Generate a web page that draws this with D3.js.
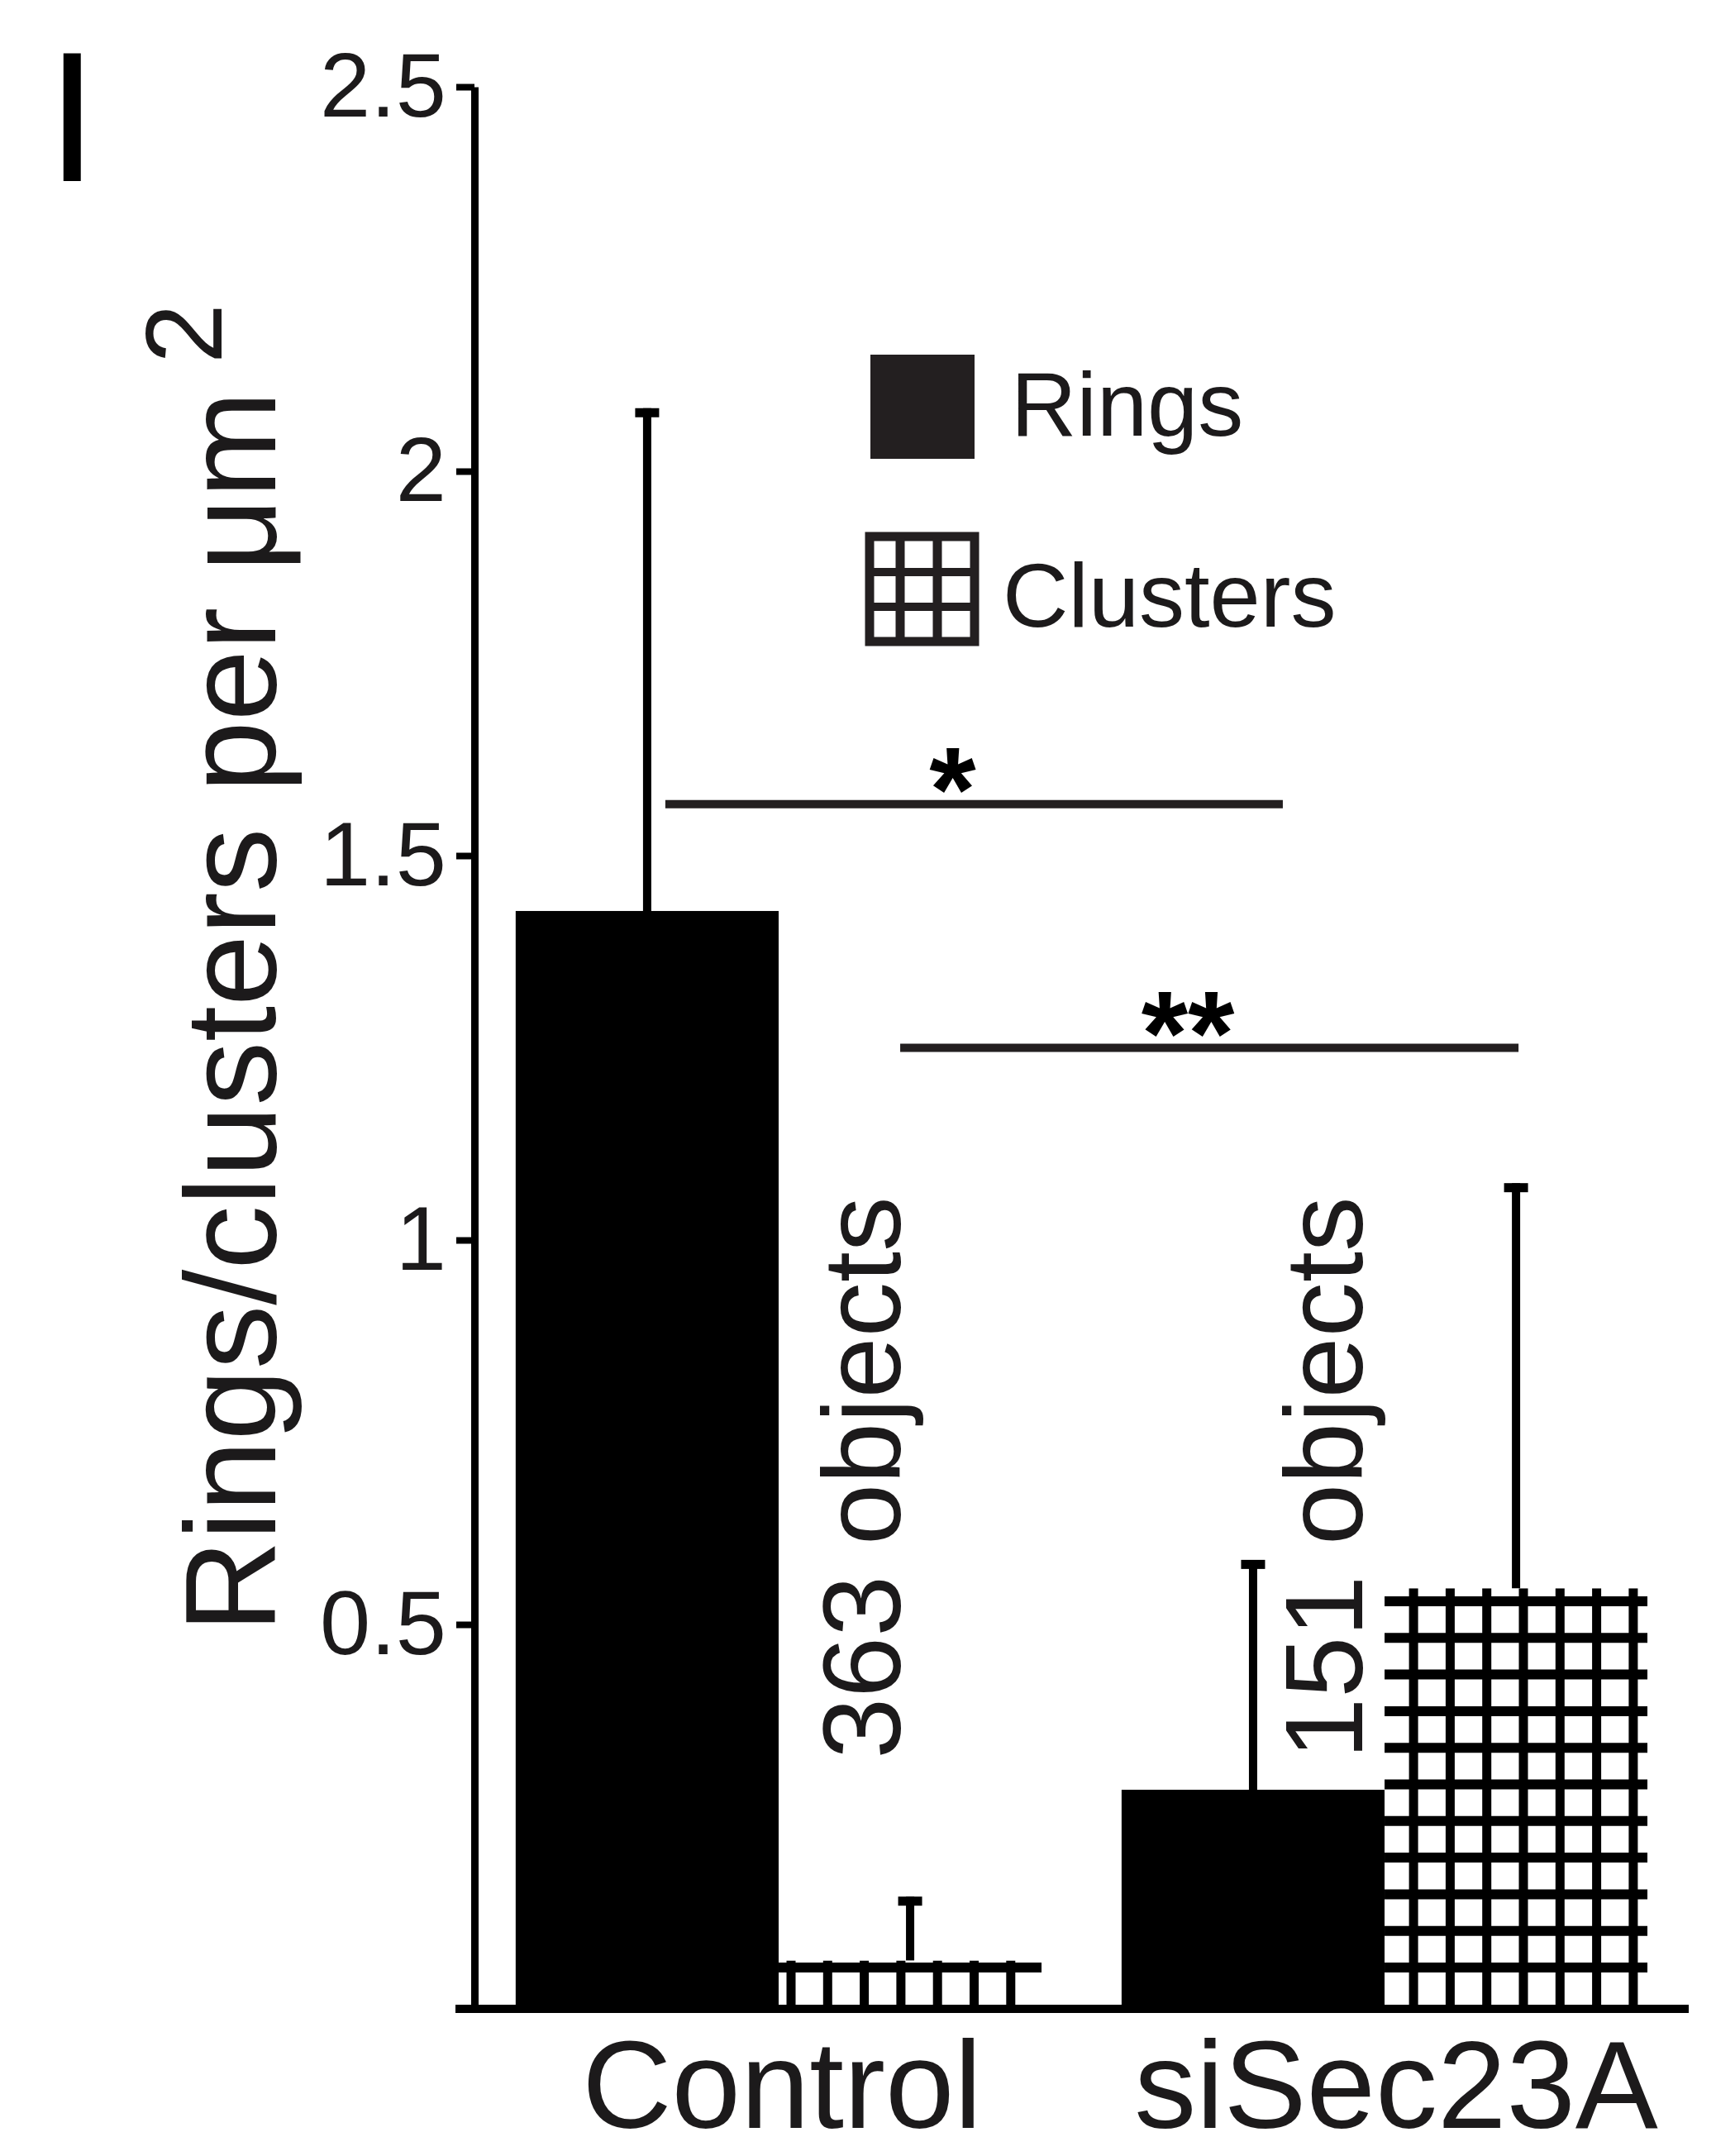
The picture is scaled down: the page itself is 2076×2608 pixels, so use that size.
<!DOCTYPE html>
<html>
<head>
<meta charset="utf-8">
<script src="https://cdn.jsdelivr.net/npm/d3@7"></script>
<style>
  html, body { margin: 0; padding: 0; background: #fff; }
  text { font-family: "Liberation Sans", Arial, Helvetica, sans-serif; }
</style>
</head>
<body>
<svg id="chart" width="2076" height="2608"></svg>
<script>
// ---- data ----
const groups = ["Control", "siSec23A"];
const series = ["Rings", "Clusters"];
const ringsMean = [1.428, 0.285];
const ringsSD = [0.654, 0.299];
const clustersMean = [0.063, 0.547];
const clustersSD = [0.083, 0.527];
const objectCounts = ["363 objects", "151 objects"];
const yTicks = [0, 0.5, 1, 1.5, 2, 2.5];
const comparisons = [
  { from: ["Control", "Rings"], to: ["siSec23A", "Rings"], level: 1.567, mark: "*" },
  { from: ["Control", "Clusters"], to: ["siSec23A", "Clusters"], level: 1.25, mark: "**" }
];

const rows = [];
groups.forEach((g, i) => {
  rows.push({ group: g, series: "Rings", mean: ringsMean[i], sd: ringsSD[i] });
  rows.push({ group: g, series: "Clusters", mean: clustersMean[i], sd: clustersSD[i] });
});

// ---- layout ----
const svg = d3.select("#chart");
const ink = "#1c1a1b";
const axisX = 574, baseY = 2430, topY = 105, axisRight = 2043;

const y = d3.scaleLinear().domain([0, 2.5]).range([baseY, topY]);
const x0 = d3.scaleBand().domain(groups).range([axisX, axisRight])
  .paddingInner(0.132).paddingOuter(0.068);
const x1 = d3.scaleBand().domain(series).range([0, x0.bandwidth()]).padding(0);
const barX = d => x0(d.group) + x1(d.series);
const barCx = (g, s) => x0(g) + x1(s) + x1.bandwidth() / 2;

// ---- cluster bars: white with a thick grid on one shared lattice ----
const hatchStep = 44.3, hatchX0 = 957, hatchY0 = 2380, hatchW = 12;
const clusterRows = rows.filter(d => d.series === "Clusters");
clusterRows.forEach((d, i) => {
  const bx = barX(d), bw = x1.bandwidth(), by = y(d.mean), bh = baseY - by;
  const cid = "clip-cl-" + i;
  svg.append("clipPath").attr("id", cid)
    .append("rect").attr("x", bx).attr("y", by).attr("width", bw).attr("height", bh);
  const g = svg.append("g").attr("clip-path", `url(#${cid})`);
  g.append("rect").attr("x", bx).attr("y", by).attr("width", bw).attr("height", bh).attr("fill", "#fff");
  for (let yy = hatchY0; yy > by - hatchW; yy -= hatchStep) {
    g.append("line").attr("x1", bx).attr("x2", bx + bw).attr("y1", yy).attr("y2", yy)
      .attr("stroke", "#000").attr("stroke-width", hatchW);
  }
  const kStart = Math.ceil((bx - hatchW / 2 - hatchX0) / hatchStep);
  for (let k = kStart; hatchX0 + k * hatchStep < bx + bw + hatchW / 2; k++) {
    const xx = hatchX0 + k * hatchStep;
    g.append("line").attr("x1", xx).attr("x2", xx).attr("y1", by).attr("y2", baseY)
      .attr("stroke", "#000").attr("stroke-width", hatchW - 1);
  }
});

// ---- ring bars: solid black ----
svg.selectAll("rect.rings").data(rows.filter(d => d.series === "Rings")).join("rect")
  .attr("class", "rings")
  .attr("x", barX).attr("width", x1.bandwidth())
  .attr("y", d => y(d.mean)).attr("height", d => baseY - y(d.mean))
  .attr("fill", "#000");

// ---- upper error bars ----
const capW = 29;
rows.forEach(d => {
  const cx = barX(d) + x1.bandwidth() / 2;
  svg.append("line").attr("x1", cx).attr("x2", cx)
    .attr("y1", y(d.mean)).attr("y2", y(d.mean + d.sd))
    .attr("stroke", "#000").attr("stroke-width", 10);
  svg.append("line").attr("x1", cx - capW / 2).attr("x2", cx + capW / 2)
    .attr("y1", y(d.mean + d.sd) + 5.5).attr("y2", y(d.mean + d.sd) + 5.5)
    .attr("stroke", "#000").attr("stroke-width", 11);
});

// ---- y axis ----
const yAxis = d3.axisLeft(y).tickValues(yTicks).tickSize(22).tickSizeOuter(0).tickPadding(12)
  .tickFormat(v => v === 0 ? "" : d3.format("~g")(v));
const ya = svg.append("g").attr("transform", `translate(${axisX},0)`).call(yAxis);
ya.select(".domain").attr("stroke", "#000").attr("stroke-width", 9);
ya.selectAll(".tick line").attr("stroke", "#000").attr("stroke-width", 8);
ya.selectAll(".tick text").attr("font-size", 110).attr("fill", ink)
  .attr("font-family", '"Liberation Sans", Arial, sans-serif');

// ---- x axis baseline and category labels ----
svg.append("line").attr("x1", axisX - 23).attr("x2", axisRight)
  .attr("y1", baseY).attr("y2", baseY).attr("stroke", "#000").attr("stroke-width", 10);
svg.selectAll("text.cat").data(groups).join("text")
  .attr("class", "cat")
  .attr("x", (g, i) => x0(g) + x0.bandwidth() / 2 + [4, 14][i])
  .attr("y", 2574)
  .attr("text-anchor", "middle").attr("font-size", 150).attr("fill", ink)
  .text(g => g);

// ---- y axis title ----
const yTitle = svg.append("text")
  .attr("transform", "translate(333,1975) rotate(-90)")
  .attr("font-size", 155).attr("fill", ink);
yTitle.append("tspan").text("Rings/clusters per μm");
yTitle.append("tspan").attr("dx", 33).attr("dy", -65).attr("font-size", 131).text("2");

// ---- panel letter ----
svg.append("text").attr("x", 56).attr("y", 219).attr("font-size", 225).attr("fill", "#000").text("I");

// ---- object counts, rotated ----
const countX = [0.731, 0.458];
objectCounts.forEach((t, i) => {
  const bx = x0(groups[i]) + countX[i] * x0.bandwidth();
  svg.append("text")
    .attr("transform", `translate(${bx},${y(0.325)}) rotate(-90)`)
    .attr("font-size", 133).attr("fill", ink).text(t);
});

// ---- significance bars ----
const nudges = [[22, 36], [-12, 3]];
comparisons.forEach((c, i) => {
  const xa = barCx(c.from[0], c.from[1]) + nudges[i][0];
  const xb = barCx(c.to[0], c.to[1]) + nudges[i][1];
  const ly = y(c.level);
  svg.append("line").attr("x1", xa).attr("x2", xb).attr("y1", ly).attr("y2", ly)
    .attr("stroke", "#231f20").attr("stroke-width", 10);
  svg.append("text").attr("x", (xa + xb) / 2 - 26).attr("y", ly + 32)
    .attr("text-anchor", "middle").attr("font-size", 145).attr("font-weight", "bold")
    .attr("fill", "#000").text(c.mark);
});

// ---- legend ----
const leg = svg.append("g");
leg.append("rect").attr("x", 1053).attr("y", 429).attr("width", 126).attr("height", 126).attr("fill", "#231f20");
leg.append("text").attr("x", 1223).attr("y", 527).attr("font-size", 110).attr("fill", ink).text(series[0]);
leg.append("rect").attr("x", 1052).attr("y", 649).attr("width", 127).attr("height", 127)
  .attr("fill", "#fff").attr("stroke", "#231f20").attr("stroke-width", 11);
[1089, 1134].forEach(xx => leg.append("line").attr("x1", xx).attr("x2", xx).attr("y1", 649).attr("y2", 776)
  .attr("stroke", "#231f20").attr("stroke-width", 11));
[692, 734].forEach(yy => leg.append("line").attr("x1", 1052).attr("x2", 1179).attr("y1", yy).attr("y2", yy)
  .attr("stroke", "#231f20").attr("stroke-width", 10));
leg.append("text").attr("x", 1213).attr("y", 758).attr("font-size", 110).attr("fill", ink).text(series[1]);
</script>
</body>
</html>
